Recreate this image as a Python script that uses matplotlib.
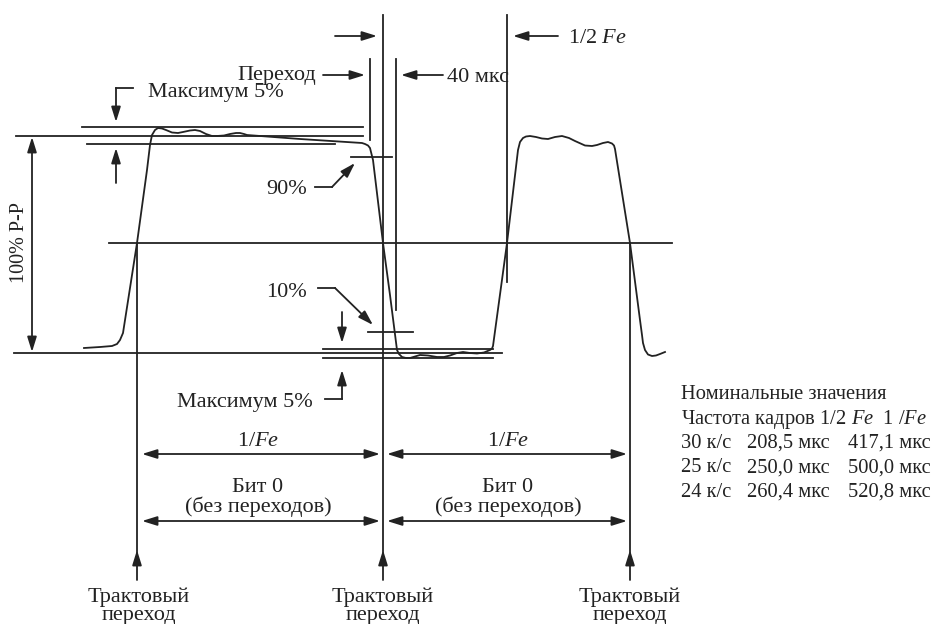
import matplotlib
matplotlib.use("Agg")
import matplotlib.pyplot as plt

plt.rcParams['font.family'] = ['Liberation Serif', 'DejaVu Serif']
plt.rcParams['mathtext.fontset'] = 'custom'
plt.rcParams['mathtext.rm'] = 'Liberation Serif'
plt.rcParams['mathtext.it'] = 'Liberation Serif:italic'

# ---- waveform trace (diagram units = pixels of the 940x624 drawing) ----
wave_x = [84, 100, 112, 117, 120, 123, 137, 147, 150, 152, 155, 158, 162, 166, 172, 178, 183, 190, 195,
          200, 206, 212, 217, 224, 230, 236, 240, 244, 247,
          300, 362, 365, 368, 370, 373, 383, 390, 397, 399, 402, 406, 410, 415, 420, 428, 437,
          444, 450, 457, 463, 470, 477, 484, 490, 492, 493,
          507, 518, 520, 523, 526, 530, 536, 542, 548, 555, 562, 569, 575, 585, 592, 597, 603, 608, 612,
          614, 615, 630, 640, 642, 643, 645, 648, 652, 656, 660, 665]
wave_y = [348, 347, 346, 344, 340, 333, 243, 170, 145, 135, 130, 128, 128.5, 130, 132.5, 133, 132, 130.5, 130,
          131, 134, 136, 136, 135.5, 134, 133, 133, 134, 135,
          139, 143, 144, 145.5, 148, 160, 243, 295, 350, 354, 357, 358, 358, 356.5, 355, 355.5, 357,
          357, 355.5, 353, 352, 353, 353.5, 352.5, 350, 348.5, 346,
          243, 150, 142, 138, 136.5, 136, 137, 138.5, 139, 137, 136, 138, 141, 145.5, 146, 145, 143, 142, 143.5,
          145.5, 149, 243, 320, 335, 343, 350, 354.5, 356, 355.5, 354, 352]

# horizontal reference lines: (y, x_start, x_end)
h_lines = [(127, 82, 363), (136, 16, 363), (144, 87, 335), (243, 109, 672),
           (353, 14, 502), (349, 323, 493), (358, 323, 493),
           (157, 351, 392), (332, 368, 413)]
# vertical lines: (x, y_start, y_end)
v_lines = [(137, 243, 552), (383, 15, 552), (630, 243, 552),
           (370, 59, 140), (396, 59, 310), (507, 15, 282)]
# single-headed arrows: (x_tail, y_tail, x_head, y_head)
arrows = [(335, 36, 377, 36), (323, 75, 365, 75), (443, 75, 401, 75), (558, 36, 513, 36),
          (116, 88, 116, 122), (116, 183, 116, 148), (332, 187, 355, 163), (335, 288, 373, 325),
          (342, 312, 342, 343), (342, 399, 342, 370),
          (137, 580, 137, 550), (383, 580, 383, 550), (630, 580, 630, 550)]
# plain segments (leader/hooks)
segments = [((133, 116), (88, 88)), ((315, 332), (187, 187)), ((318, 335), (288, 288)),
            ((325, 342), (399, 399))]
# double headed arrows: (x0, y0, x1, y1)
dbl_arrows = [(32, 137, 32, 352), (142, 454, 380, 454), (387, 454, 627, 454),
              (142, 521, 380, 521), (387, 521, 627, 521)]

# table
table_title = "Номинальные значения"
table_head = "Частота кадров 1/2 $Fe$  1 /$Fe$"
fps = ["30 к/с", "25 к/с", "24 к/с"]
half_fe = ["208,5 мкс", "250,0 мкс", "260,4 мкс"]
full_fe = ["417,1 мкс", "500,0 мкс", "520,8 мкс"]

fig = plt.figure(figsize=(9.4, 6.24), dpi=100)
ax = fig.add_axes([0, 0, 1, 1])
ax.set_xlim(0, 940)
ax.set_ylim(624, 0)
ax.axis('off')

lw = 1.3
col = '#222222'
ax.plot(wave_x, wave_y, color=col, lw=lw, solid_joinstyle='round')
for y, x0, x1 in h_lines:
    ax.plot([x0, x1], [y, y], color=col, lw=lw)
for x, y0, y1 in v_lines:
    ax.plot([x, x], [y0, y1], color=col, lw=lw)
for xs, ys in segments:
    ax.plot(xs, ys, color=col, lw=lw)
ap = dict(arrowstyle='-|>,head_length=0.9,head_width=0.28', color=col, lw=lw,
          shrinkA=0, shrinkB=0, mutation_scale=10)
for x0, y0, x1, y1 in arrows:
    ax.annotate('', xy=(x1, y1), xytext=(x0, y0), arrowprops=ap)
ap2 = dict(ap)
ap2['arrowstyle'] = '<|-|>,head_length=0.9,head_width=0.28'
for x0, y0, x1, y1 in dbl_arrows:
    ax.annotate('', xy=(x1, y1), xytext=(x0, y0), arrowprops=ap2)

fs = 16
tc = '#222222'
def t(x, y, s, ha='left', size=fs, **kw):
    ax.text(x, y, s, ha=ha, va='baseline', fontsize=size, color=tc, **kw)

t(316, 80, "Переход", ha='right')
t(148, 97, "Максимум 5%")
t(447, 82, "40 мкс")
t(568, 43, "1/2 $Fe$")
t(307, 194, "90%", ha='right')
t(307, 297, "10%", ha='right')
t(313, 407, "Максимум 5%", ha='right')
for cx in (258, 508):
    t(cx, 446, "1/$Fe$", ha='center')
    t(cx, 492, "Бит 0", ha='center')
    t(cx, 512, "(без переходов)", ha='center')
for cx in (139, 383, 630):
    t(cx, 602, "Трактовый", ha='center')
    t(cx, 620, "переход", ha='center')
ax.text(20, 243, "100% P-P", rotation=90, ha='center', va='center', fontsize=14.5, color=tc)

ts = 14.8
t(681, 399, table_title, size=ts)
t(681, 424, table_head, size=ts)
for i in range(3):
    yb = 448 + i * 24.5
    t(681, yb, fps[i], size=ts)
    t(747, yb, half_fe[i], size=ts)
    t(848, yb, full_fe[i], size=ts)

fig.savefig("out.png", dpi=100)
